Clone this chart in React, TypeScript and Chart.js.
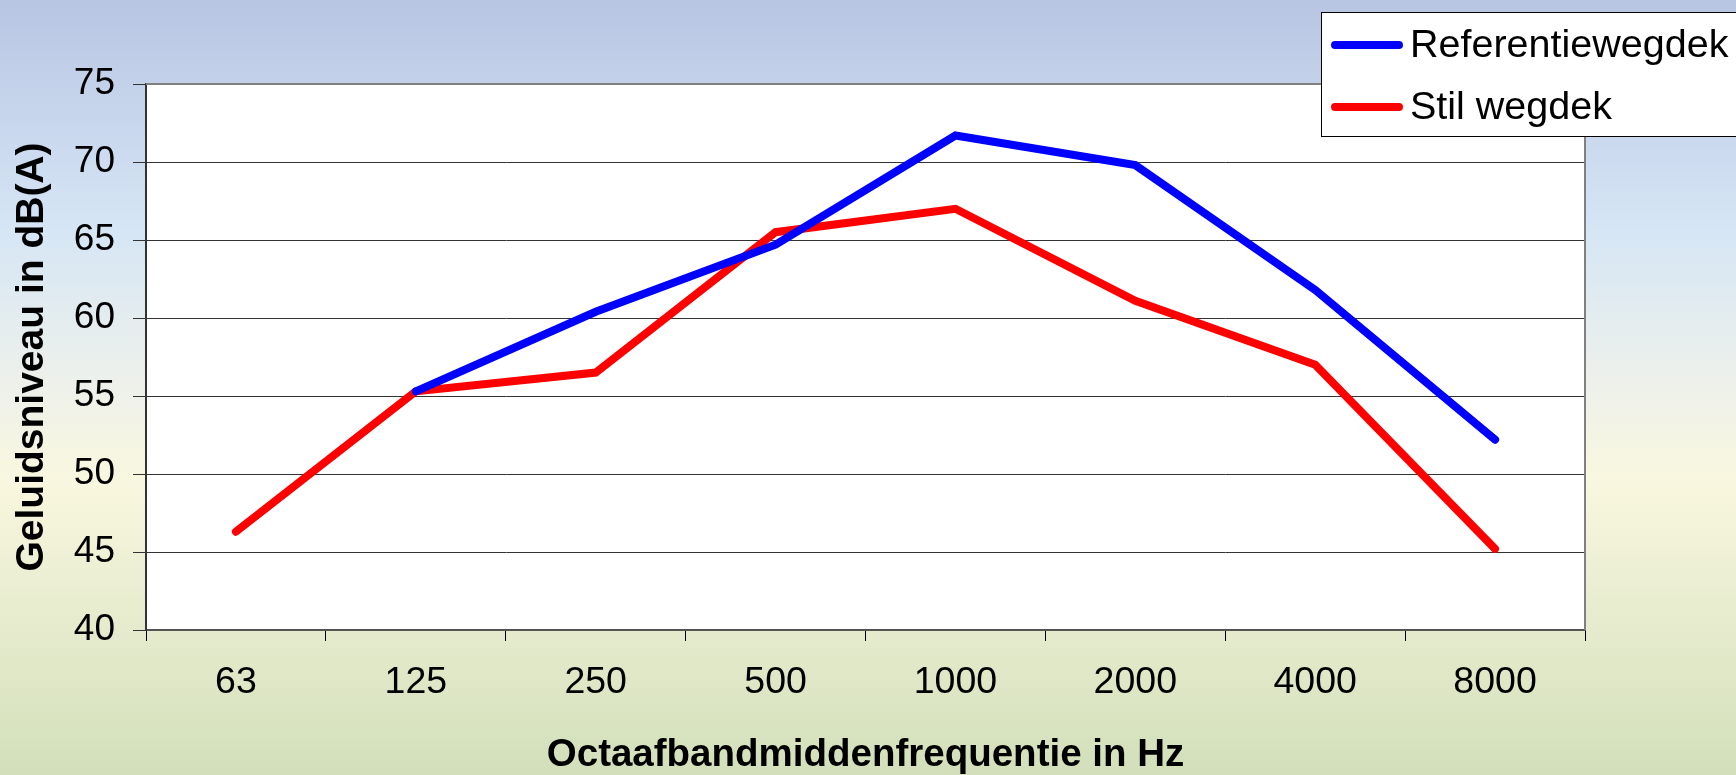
import React, { useEffect, useRef } from 'react';
import { Chart, registerables } from 'chart.js';

Chart.register(...registerables);

const categories = ['63', '125', '250', '500', '1000', '2000', '4000', '8000'];
const referentieValues: (number | null)[] = [null, 55.3, 60.4, 64.7, 71.7, 69.8, 61.8, 52.2];
const stilValues: (number | null)[] = [46.3, 55.3, 56.5, 65.5, 67.0, 61.1, 57.0, 45.2];
const seriesLabels = ['Referentiewegdek', 'Stil wegdek'];
const seriesColors = ['#0000ff', '#ff0000'];
const yMin = 40;
const yMax = 75;
const yStep = 5;
const xTitle = 'Octaafbandmiddenfrequentie in Hz';
const yTitle = 'Geluidsniveau in dB(A)';

const FONT = "'Liberation Sans', Arial, sans-serif";

const backgroundPlugin = {
  id: 'bgPlugin',
  beforeDraw(chart: any) {
    const { ctx, width, height, chartArea } = chart;
    ctx.save();
    const g = ctx.createLinearGradient(0, 0, 0, height);
    g.addColorStop(0, '#b8c5e3');
    g.addColorStop(0.3, '#d6e6f5');
    g.addColorStop(0.5, '#eef1ea');
    g.addColorStop(0.62, '#f9f7df');
    g.addColorStop(1, '#d2dfba');
    ctx.fillStyle = g;
    ctx.fillRect(0, 0, width, height);
    ctx.fillStyle = '#ffffff';
    ctx.fillRect(chartArea.left, chartArea.top, chartArea.right - chartArea.left, chartArea.bottom - chartArea.top);
    ctx.restore();
  },
  afterDatasetsDraw(chart: any) {
    const { ctx, chartArea } = chart;
    ctx.save();
    ctx.strokeStyle = '#808080';
    ctx.lineWidth = 2;
    ctx.beginPath();
    ctx.moveTo(chartArea.left, chartArea.top);
    ctx.lineTo(chartArea.right, chartArea.top);
    ctx.lineTo(chartArea.right, chartArea.bottom);
    ctx.stroke();
    ctx.restore();
  },
  afterDraw(chart: any) {
    const { ctx } = chart;
    const datasets = chart.data.datasets;
    ctx.save();
    const bx = 1321.5;
    const by = 12.5;
    const bw = 500;
    const bh = 124;
    ctx.fillStyle = '#ffffff';
    ctx.fillRect(bx, by, bw, bh);
    ctx.strokeStyle = '#000000';
    ctx.lineWidth = 1;
    ctx.strokeRect(bx, by, bw, bh);
    const rows = [45, 107];
    datasets.forEach((ds: any, i: number) => {
      const y = rows[i];
      ctx.strokeStyle = ds.borderColor;
      ctx.lineWidth = 8;
      ctx.lineCap = 'round';
      ctx.beginPath();
      ctx.moveTo(1335, y);
      ctx.lineTo(1399, y);
      ctx.stroke();
      ctx.fillStyle = '#000000';
      ctx.font = `39.5px ${FONT}`;
      ctx.textBaseline = 'middle';
      ctx.textAlign = 'left';
      ctx.fillText(ds.label, 1410, y + 1);
    });
    ctx.restore();
  },
};

export default function App() {
  const canvasRef = useRef<HTMLCanvasElement | null>(null);

  useEffect(() => {
    document.body.style.margin = '0';
    const canvas = canvasRef.current;
    if (!canvas) return;
    const chart = new Chart(canvas, {
      type: 'line',
      data: {
        labels: categories,
        datasets: [
          {
            label: seriesLabels[0],
            data: referentieValues,
            borderColor: seriesColors[0],
            backgroundColor: seriesColors[0],
            borderWidth: 8,
            pointRadius: 0,
            tension: 0,
            borderCapStyle: 'round',
            fill: false,
          },
          {
            label: seriesLabels[1],
            data: stilValues,
            borderColor: seriesColors[1],
            backgroundColor: seriesColors[1],
            borderWidth: 8,
            pointRadius: 0,
            tension: 0,
            borderCapStyle: 'round',
            fill: false,
          },
        ],
      },
      options: {
        responsive: false,
        animation: false,
        layout: { padding: { left: 0, top: 84, right: 151, bottom: 0 } },
        plugins: {
          legend: { display: false },
          tooltip: { enabled: false },
        },
        scales: {
          x: {
            type: 'category',
            offset: true,
            grid: {
              display: true,
              drawOnChartArea: false,
              offset: true,
              tickLength: 11,
              color: '#000000',
              lineWidth: 1,
            },
            border: { display: true, color: '#555555', width: 2 },
            ticks: {
              color: '#000000',
              font: { family: FONT, size: 37.5 },
              padding: 19,
              maxRotation: 0,
              autoSkip: false,
            },
            title: {
              display: true,
              text: xTitle,
              color: '#000000',
              font: { family: FONT, size: 38.5, weight: 'bold', lineHeight: 1 },
              padding: { top: 0, bottom: 0 },
            },
            afterFit(scale: any) {
              scale.height = 145;
            },
          },
          y: {
            min: yMin,
            max: yMax,
            ticks: {
              stepSize: yStep,
              color: '#000000',
              font: { family: FONT, size: 37 },
              padding: 18,
            },
            grid: {
              color: '#333333',
              lineWidth: 1,
              tickLength: 13,
            },
            border: { display: true, color: '#333333', width: 2 },
            title: {
              display: true,
              text: yTitle,
              color: '#000000',
              font: { family: FONT, size: 39, weight: 'bold', lineHeight: 1 },
              padding: { top: 13, bottom: 0 },
            },
            afterFit(scale: any) {
              scale.width = 146;
            },
          },
        },
      },
      plugins: [backgroundPlugin],
    } as any);
    return () => chart.destroy();
  }, []);

  return (
    <div style={{ width: 1736, height: 775 }}>
      <canvas ref={canvasRef} width={1736} height={775} style={{ display: 'block' }} />
    </div>
  );
}
